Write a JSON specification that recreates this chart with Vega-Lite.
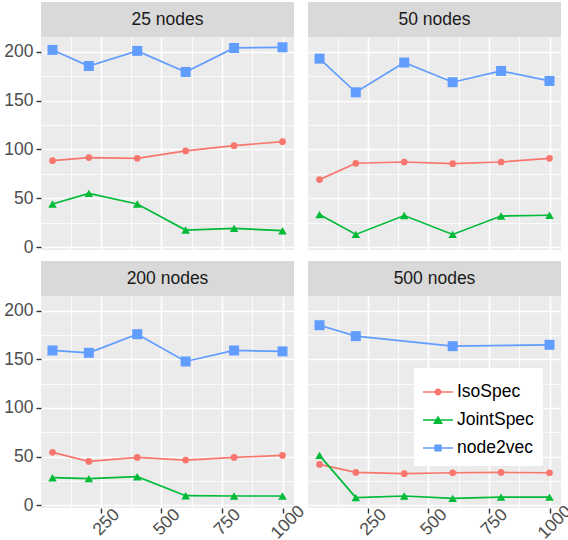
{
  "$schema": "https://vega.github.io/schema/vega-lite/v6.json",
  "padding": {"left": 3, "top": 2, "right": 2, "bottom": 0},
  "datasets": {
    "runs": [
      {"nodes": 25, "samples": 50, "method": "IsoSpec", "score": 88.6},
      {"nodes": 25, "samples": 200, "method": "IsoSpec", "score": 91.7},
      {"nodes": 25, "samples": 400, "method": "IsoSpec", "score": 91.0},
      {"nodes": 25, "samples": 600, "method": "IsoSpec", "score": 98.5},
      {"nodes": 25, "samples": 800, "method": "IsoSpec", "score": 103.9},
      {"nodes": 25, "samples": 1000, "method": "IsoSpec", "score": 108.0},
      {"nodes": 25, "samples": 50, "method": "JointSpec", "score": 44.3},
      {"nodes": 25, "samples": 200, "method": "JointSpec", "score": 55.2},
      {"nodes": 25, "samples": 400, "method": "JointSpec", "score": 44.3},
      {"nodes": 25, "samples": 600, "method": "JointSpec", "score": 17.7},
      {"nodes": 25, "samples": 800, "method": "JointSpec", "score": 19.4},
      {"nodes": 25, "samples": 1000, "method": "JointSpec", "score": 17.0},
      {"nodes": 25, "samples": 50, "method": "node2vec", "score": 201.7},
      {"nodes": 25, "samples": 200, "method": "node2vec", "score": 185.3},
      {"nodes": 25, "samples": 400, "method": "node2vec", "score": 200.7},
      {"nodes": 25, "samples": 600, "method": "node2vec", "score": 179.2},
      {"nodes": 25, "samples": 800, "method": "node2vec", "score": 203.7},
      {"nodes": 25, "samples": 1000, "method": "node2vec", "score": 204.4},
      {"nodes": 50, "samples": 50, "method": "IsoSpec", "score": 69.2},
      {"nodes": 50, "samples": 200, "method": "IsoSpec", "score": 85.9},
      {"nodes": 50, "samples": 400, "method": "IsoSpec", "score": 87.2},
      {"nodes": 50, "samples": 600, "method": "IsoSpec", "score": 85.5},
      {"nodes": 50, "samples": 800, "method": "IsoSpec", "score": 87.2},
      {"nodes": 50, "samples": 1000, "method": "IsoSpec", "score": 91.0},
      {"nodes": 50, "samples": 50, "method": "JointSpec", "score": 33.5},
      {"nodes": 50, "samples": 200, "method": "JointSpec", "score": 13.2},
      {"nodes": 50, "samples": 400, "method": "JointSpec", "score": 32.5},
      {"nodes": 50, "samples": 600, "method": "JointSpec", "score": 13.2},
      {"nodes": 50, "samples": 800, "method": "JointSpec", "score": 32.0},
      {"nodes": 50, "samples": 1000, "method": "JointSpec", "score": 32.8},
      {"nodes": 50, "samples": 50, "method": "node2vec", "score": 192.8},
      {"nodes": 50, "samples": 200, "method": "node2vec", "score": 158.4},
      {"nodes": 50, "samples": 400, "method": "node2vec", "score": 188.8},
      {"nodes": 50, "samples": 600, "method": "node2vec", "score": 168.7},
      {"nodes": 50, "samples": 800, "method": "node2vec", "score": 180.2},
      {"nodes": 50, "samples": 1000, "method": "node2vec", "score": 170.0},
      {"nodes": 200, "samples": 50, "method": "IsoSpec", "score": 54.4},
      {"nodes": 200, "samples": 200, "method": "IsoSpec", "score": 45.1},
      {"nodes": 200, "samples": 400, "method": "IsoSpec", "score": 49.2},
      {"nodes": 200, "samples": 600, "method": "IsoSpec", "score": 46.5},
      {"nodes": 200, "samples": 800, "method": "IsoSpec", "score": 49.2},
      {"nodes": 200, "samples": 1000, "method": "IsoSpec", "score": 51.3},
      {"nodes": 200, "samples": 50, "method": "JointSpec", "score": 28.4},
      {"nodes": 200, "samples": 200, "method": "JointSpec", "score": 27.4},
      {"nodes": 200, "samples": 400, "method": "JointSpec", "score": 29.4},
      {"nodes": 200, "samples": 600, "method": "JointSpec", "score": 9.9},
      {"nodes": 200, "samples": 800, "method": "JointSpec", "score": 9.6},
      {"nodes": 200, "samples": 1000, "method": "JointSpec", "score": 9.6},
      {"nodes": 200, "samples": 50, "method": "node2vec", "score": 159.0},
      {"nodes": 200, "samples": 200, "method": "node2vec", "score": 156.6},
      {"nodes": 200, "samples": 400, "method": "node2vec", "score": 175.7},
      {"nodes": 200, "samples": 600, "method": "node2vec", "score": 147.7},
      {"nodes": 200, "samples": 800, "method": "node2vec", "score": 159.0},
      {"nodes": 200, "samples": 1000, "method": "node2vec", "score": 158.0},
      {"nodes": 500, "samples": 50, "method": "IsoSpec", "score": 42.0},
      {"nodes": 500, "samples": 200, "method": "IsoSpec", "score": 33.8},
      {"nodes": 500, "samples": 400, "method": "IsoSpec", "score": 32.5},
      {"nodes": 500, "samples": 600, "method": "IsoSpec", "score": 33.5},
      {"nodes": 500, "samples": 800, "method": "IsoSpec", "score": 33.8},
      {"nodes": 500, "samples": 1000, "method": "IsoSpec", "score": 33.5},
      {"nodes": 500, "samples": 50, "method": "JointSpec", "score": 51.3},
      {"nodes": 500, "samples": 200, "method": "JointSpec", "score": 7.9},
      {"nodes": 500, "samples": 400, "method": "JointSpec", "score": 9.6},
      {"nodes": 500, "samples": 600, "method": "JointSpec", "score": 7.2},
      {"nodes": 500, "samples": 800, "method": "JointSpec", "score": 8.5},
      {"nodes": 500, "samples": 1000, "method": "JointSpec", "score": 8.5},
      {"nodes": 500, "samples": 50, "method": "node2vec", "score": 184.9},
      {"nodes": 500, "samples": 200, "method": "node2vec", "score": 173.7},
      {"nodes": 500, "samples": 600, "method": "node2vec", "score": 163.4},
      {"nodes": 500, "samples": 1000, "method": "node2vec", "score": 164.8}
    ]
  },
  "columns": 2,
  "align": "each",
  "spacing": {"row": 5, "column": -4},
  "resolve": {"legend": {"color": "independent"}},
  "concat": [
    {
      "bounds": "flush",
      "spacing": 0,
      "vconcat": [
        {
          "width": 253, "height": 35,
          "data": {"values": [{"panel": "25 nodes"}]},
          "view": {"fill": "#d9d9d9", "stroke": null},
          "mark": {"type": "text", "fontSize": 17.5, "color": "#1a1a1a"},
          "encoding": {"text": {"field": "panel"}}
        },
        {
          "width": 253, "height": 213,
          "data": {"name": "runs"},
          "transform": [{"filter": "datum.nodes == 25"}],
          "encoding": {
            "x": {"field": "samples", "type": "quantitative",
              "scale": {"domain": [2.5, 1047.5], "nice": false, "zero": false},
              "axis": {"values": [125, 250, 375, 500, 625, 750, 875, 1000], "labels": false, "ticks": false,
                "gridWidth": {"condition": {"test": "datum.value % 250 == 0", "value": 1.6}, "value": 0.8}}},
            "y": {"field": "score", "type": "quantitative",
              "scale": {"domain": [-2.7, 214.9], "nice": false, "zero": false},
              "axis": {"values": [0, 25, 50, 75, 100, 125, 150, 175, 200],
                "labelExpr": "datum.value % 50 == 0 ? datum.label : ''",
                "tickOpacity": {"condition": {"test": "datum.value % 50 == 0", "value": 1}, "value": 0},
                "gridWidth": {"condition": {"test": "datum.value % 50 == 0", "value": 1.6}, "value": 0.8}}},
            "color": {"field": "method", "type": "nominal",
              "scale": {"domain": ["IsoSpec", "JointSpec", "node2vec"], "range": ["#F8766D", "#00BA38", "#619CFF"]},
              "legend": null}
          },
          "layer": [
            {"mark": {"type": "line", "strokeWidth": 1.7}},
            {"mark": {"type": "point", "filled": true, "opacity": 1},
              "encoding": {
                "shape": {"field": "method", "type": "nominal",
                  "scale": {"domain": ["IsoSpec", "JointSpec", "node2vec"], "range": ["circle", "triangle-up", "square"]}, "legend": null},
                "size": {"field": "method", "type": "nominal",
                  "scale": {"domain": ["IsoSpec", "JointSpec", "node2vec"], "range": [45, 100, 53]}, "legend": null}
              }}
          ]
        }
      ]
    },
    {
      "bounds": "flush",
      "spacing": 0,
      "vconcat": [
        {
          "width": 253, "height": 35,
          "data": {"values": [{"panel": "50 nodes"}]},
          "view": {"fill": "#d9d9d9", "stroke": null},
          "mark": {"type": "text", "fontSize": 17.5, "color": "#1a1a1a"},
          "encoding": {"text": {"field": "panel"}}
        },
        {
          "width": 253, "height": 213,
          "data": {"name": "runs"},
          "transform": [{"filter": "datum.nodes == 50"}],
          "encoding": {
            "x": {"field": "samples", "type": "quantitative",
              "scale": {"domain": [2.5, 1047.5], "nice": false, "zero": false},
              "axis": {"values": [125, 250, 375, 500, 625, 750, 875, 1000], "labels": false, "ticks": false,
                "gridWidth": {"condition": {"test": "datum.value % 250 == 0", "value": 1.6}, "value": 0.8}}},
            "y": {"field": "score", "type": "quantitative",
              "scale": {"domain": [-2.7, 214.9], "nice": false, "zero": false},
              "axis": {"values": [0, 25, 50, 75, 100, 125, 150, 175, 200], "labels": false, "ticks": false,
                "gridWidth": {"condition": {"test": "datum.value % 50 == 0", "value": 1.6}, "value": 0.8}}},
            "color": {"field": "method", "type": "nominal",
              "scale": {"domain": ["IsoSpec", "JointSpec", "node2vec"], "range": ["#F8766D", "#00BA38", "#619CFF"]},
              "legend": null}
          },
          "layer": [
            {"mark": {"type": "line", "strokeWidth": 1.7}},
            {"mark": {"type": "point", "filled": true, "opacity": 1},
              "encoding": {
                "shape": {"field": "method", "type": "nominal",
                  "scale": {"domain": ["IsoSpec", "JointSpec", "node2vec"], "range": ["circle", "triangle-up", "square"]}, "legend": null},
                "size": {"field": "method", "type": "nominal",
                  "scale": {"domain": ["IsoSpec", "JointSpec", "node2vec"], "range": [45, 100, 53]}, "legend": null}
              }}
          ]
        }
      ]
    },
    {
      "bounds": "flush",
      "spacing": 0,
      "vconcat": [
        {
          "width": 253, "height": 35,
          "data": {"values": [{"panel": "200 nodes"}]},
          "view": {"fill": "#d9d9d9", "stroke": null},
          "mark": {"type": "text", "fontSize": 17.5, "color": "#1a1a1a"},
          "encoding": {"text": {"field": "panel"}}
        },
        {
          "width": 253, "height": 212,
          "data": {"name": "runs"},
          "transform": [{"filter": "datum.nodes == 200"}],
          "encoding": {
            "x": {"field": "samples", "type": "quantitative",
              "scale": {"domain": [2.5, 1047.5], "nice": false, "zero": false},
              "axis": {"values": [125, 250, 375, 500, 625, 750, 875, 1000], "format": "d",
                "labelExpr": "datum.value % 250 == 0 ? datum.label : ''",
                "tickOpacity": {"condition": {"test": "datum.value % 250 == 0", "value": 1}, "value": 0},
                "labelAngle": -45, "labelAlign": "center", "labelBaseline": "middle", "labelPadding": 9, "labelOffset": 5,
                "gridWidth": {"condition": {"test": "datum.value % 250 == 0", "value": 1.6}, "value": 0.8}}},
            "y": {"field": "score", "type": "quantitative",
              "scale": {"domain": [-2.7, 214.9], "nice": false, "zero": false},
              "axis": {"values": [0, 25, 50, 75, 100, 125, 150, 175, 200],
                "labelExpr": "datum.value % 50 == 0 ? datum.label : ''",
                "tickOpacity": {"condition": {"test": "datum.value % 50 == 0", "value": 1}, "value": 0},
                "gridWidth": {"condition": {"test": "datum.value % 50 == 0", "value": 1.6}, "value": 0.8}}},
            "color": {"field": "method", "type": "nominal",
              "scale": {"domain": ["IsoSpec", "JointSpec", "node2vec"], "range": ["#F8766D", "#00BA38", "#619CFF"]},
              "legend": null}
          },
          "layer": [
            {"mark": {"type": "line", "strokeWidth": 1.7}},
            {"mark": {"type": "point", "filled": true, "opacity": 1},
              "encoding": {
                "shape": {"field": "method", "type": "nominal",
                  "scale": {"domain": ["IsoSpec", "JointSpec", "node2vec"], "range": ["circle", "triangle-up", "square"]}, "legend": null},
                "size": {"field": "method", "type": "nominal",
                  "scale": {"domain": ["IsoSpec", "JointSpec", "node2vec"], "range": [45, 100, 53]}, "legend": null}
              }}
          ]
        }
      ]
    },
    {
      "bounds": "flush",
      "spacing": 0,
      "resolve": {"legend": {"color": "independent"}},
      "vconcat": [
        {
          "width": 253, "height": 35,
          "data": {"values": [{"panel": "500 nodes"}]},
          "view": {"fill": "#d9d9d9", "stroke": null},
          "mark": {"type": "text", "fontSize": 17.5, "color": "#1a1a1a"},
          "encoding": {"text": {"field": "panel"}}
        },
        {
          "width": 253, "height": 212,
          "data": {"name": "runs"},
          "transform": [{"filter": "datum.nodes == 500"}],
          "encoding": {
            "x": {"field": "samples", "type": "quantitative",
              "scale": {"domain": [2.5, 1047.5], "nice": false, "zero": false},
              "axis": {"values": [125, 250, 375, 500, 625, 750, 875, 1000], "format": "d",
                "labelExpr": "datum.value % 250 == 0 ? datum.label : ''",
                "tickOpacity": {"condition": {"test": "datum.value % 250 == 0", "value": 1}, "value": 0},
                "labelAngle": -45, "labelAlign": "center", "labelBaseline": "middle", "labelPadding": 9, "labelOffset": 5,
                "gridWidth": {"condition": {"test": "datum.value % 250 == 0", "value": 1.6}, "value": 0.8}}},
            "y": {"field": "score", "type": "quantitative",
              "scale": {"domain": [-2.7, 214.9], "nice": false, "zero": false},
              "axis": {"values": [0, 25, 50, 75, 100, 125, 150, 175, 200], "labels": false, "ticks": false,
                "gridWidth": {"condition": {"test": "datum.value % 50 == 0", "value": 1.6}, "value": 0.8}}},
            "color": {"field": "method", "type": "nominal",
              "scale": {"domain": ["IsoSpec", "JointSpec", "node2vec"], "range": ["#F8766D", "#00BA38", "#619CFF"]},
              "legend": {
                "orient": "none", "legendX": 106, "legendY": 72, "title": null,
                "fillColor": "white", "padding": 9, "rowPadding": 4,
                "labelFontSize": 17.5, "labelColor": "#000000", "labelOffset": 4,
                "symbolSize": 900, "symbolStrokeWidth": 0, "symbolOpacity": 1,
                "encode": {
                  "symbols": {
                    "update": {
                      "shape": {"signal": "datum.value == 'IsoSpec' ? 'M-1,-0.05H1V0.05H-1Z M-0.23,0A0.23,0.23 0 1,1 0.23,0A0.23,0.23 0 1,1 -0.23,0Z' : datum.value == 'JointSpec' ? 'M-1,-0.05H1V0.05H-1Z M0,-0.3L0.33,0.26L-0.33,0.26Z' : 'M-1,-0.05H1V0.05H-1Z M-0.24,-0.24H0.24V0.24H-0.24Z'"},
                      "fill": {"scale": "color", "field": "value"},
                      "strokeWidth": {"value": 0}
                    }
                  }
                }
              }}
          },
          "layer": [
            {"mark": {"type": "line", "strokeWidth": 1.7}},
            {"mark": {"type": "point", "filled": true, "opacity": 1},
              "encoding": {
                "shape": {"field": "method", "type": "nominal",
                  "scale": {"domain": ["IsoSpec", "JointSpec", "node2vec"], "range": ["circle", "triangle-up", "square"]}, "legend": null},
                "size": {"field": "method", "type": "nominal",
                  "scale": {"domain": ["IsoSpec", "JointSpec", "node2vec"], "range": [45, 100, 53]}, "legend": null}
              }}
          ]
        }
      ]
    }
  ],
  "config": {
    "font": "Liberation Sans",
    "view": {"fill": "#ebebeb", "stroke": null},
    "axis": {
      "title": null, "domain": false, "gridColor": "#ffffff", "gridOpacity": 1,
      "labelFontSize": 17.5, "labelColor": "#4d4d4d", "labelPadding": 3,
      "tickColor": "#333333", "tickSize": 5, "tickWidth": 1.4
    }
  }
}
